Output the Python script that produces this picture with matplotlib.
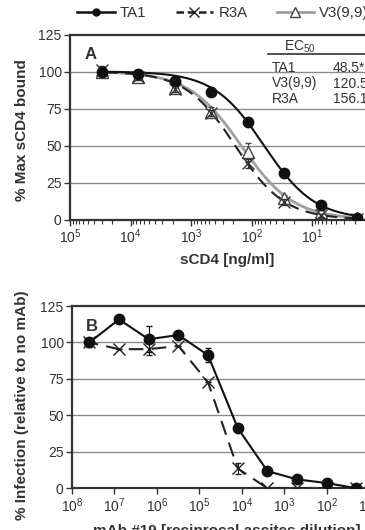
import numpy as np
import matplotlib
matplotlib.use("Agg")
import matplotlib.pyplot as plt
from matplotlib.lines import Line2D

plt.rcParams['font.family'] = ['Liberation Sans', 'DejaVu Sans']
plt.rcParams['mathtext.default'] = 'regular'

# ---------------- data ----------------
# Panel A: sCD4 concentration (ng/ml)
conc_a = [1.83, 7.32, 29.3, 117.2, 468.75, 1875, 7500, 30000]
ta1_a = [1, 9.8, 31.2, 65.7, 86.4, 93.8, 98.1, 100]
v3_a = [1, 5.3, 14.3, 45.8, 72.8, 88.6, 96.5, 100]
r3a_a = [0.5, 3, 12, 38, 72, 88, 96, 101]
ta1_a_err = [0, 1, 2, 2, 2, 1.5, 1, 1]
v3_a_err = [0, 1, 2, 6, 3, 3, 2, 2]
r3a_a_err = [0, 1, 2, 3, 2, 2, 2, 3]
# fitted dose-response parameters (midpoint, Hill slope)
fit_mid = {'TA1': 62.6, 'V3(9,9)': 150.0, 'R3A': 188.0}
fit_hill = {'TA1': 1.04, 'V3(9,9)': 1.0, 'R3A': 1.06}

ec50_names = ['TA1', 'V3(9,9)', 'R3A']
ec50_values = ['48.5*', '120.5', '156.1']

# Panel B: reciprocal ascites dilution
dil_b = [20, 100, 500, 2500, 12500, 62500, 312500, 1562500, 7812500, 39062500]
ta1_b = [0, 3.6, 6.1, 11.8, 41.3, 91.3, 105.1, 102.2, 115.8, 100]
r3a_b = [0, 0, 0, 0, 13.6, 72.6, 97.6, 95.4, 95.4, 100]
ta1_b_err = [0, 0, 0, 0, 0, 5, 0, 9, 0, 0]
r3a_b_err = [0, 0, 0, 0, 4, 0, 0, 4, 0, 3]

yticks = [0, 25, 50, 75, 100, 125]

# ---------------- figure ----------------
W, H = 365, 530
fig = plt.figure(figsize=(W / 100, H / 100), dpi=100)

TXT = '#333333'
SP = '#333333'
GRAY = '#a0a0a0'


def px(x, y):
    return x / W, 1 - y / H


def style(ax):
    ax.set_xscale('log')
    ax.set_ylim(0, 125)
    ax.set_yticks(yticks)
    for yv in yticks[1:-1]:
        ax.axhline(yv, color='#8a8a8a', lw=1.0, zorder=0)
    for s in ['left', 'bottom', 'top']:
        ax.spines[s].set_color(SP)
        ax.spines[s].set_linewidth(1.6)
    ax.spines['right'].set_visible(False)
    ax.tick_params(axis='both', which='major', direction='out', length=4,
                   width=1, colors=SP, labelsize=10, labelcolor=TXT, pad=2)
    ax.tick_params(axis='x', which='minor', direction='out', length=3,
                   width=0.8, colors=SP)
    ax.tick_params(axis='y', which='minor', left=False)


# ---- Panel A ----
axA = fig.add_axes([70 / W, 1 - 219.5 / H, 315 / W, 185 / H])
style(axA)
axA.set_xlim(1e5, 10 ** -0.2)
axA.set_xticks([1e5, 1e4, 1e3, 1e2, 1e1])

xf = np.logspace(np.log10(min(conc_a)), np.log10(max(conc_a)), 300)


def fit(name):
    return 100.0 / (1 + (fit_mid[name] / xf) ** fit_hill[name])


axA.plot(xf, fit('V3(9,9)'), color=GRAY, lw=2.0, zorder=2)
axA.plot(xf, fit('R3A'), color='#222222', lw=1.5, ls=(0, (6, 3.5)), zorder=3)
axA.plot(xf, fit('TA1'), color='#111111', lw=1.5, zorder=4)

axA.errorbar(conc_a, v3_a, yerr=v3_a_err, fmt='^', ms=8, mfc='white',
             mec='#444444', mew=1.0, ecolor='#444444', elinewidth=0.8,
             capsize=2.5, zorder=5)
axA.errorbar(conc_a, r3a_a, yerr=r3a_a_err, fmt='x', ms=8, mec='#333333',
             mew=1.0, ecolor='#333333', elinewidth=0.8, capsize=2.5, zorder=6)
axA.errorbar(conc_a, ta1_a, yerr=ta1_a_err, fmt='o', ms=7.5, mfc='#111111',
             mec='#111111', ecolor='#111111', elinewidth=0.8, capsize=2.5,
             zorder=7)
axA.text(0.045, 0.93, 'A', transform=axA.transAxes, fontsize=12,
         fontweight='bold', color=TXT, va='top', ha='left')
axA.set_xlabel('sCD4 [ng/ml]', fontsize=11, fontweight='bold', color=TXT,
               labelpad=5)

# EC50 table
fig.text(*px(300, 47), 'EC$_{50}$', fontsize=10, color=TXT, ha='center',
         va='center')
fig.add_artist(Line2D([268 / W, 1.0], [1 - 54 / H, 1 - 54 / H],
                      color=SP, lw=1.2))
for i, (nm, v) in enumerate(zip(ec50_names, ec50_values)):
    yy = 68 + i * 15.5
    fig.text(*px(272, yy), nm, fontsize=10, color=TXT, ha='left', va='center')
    fig.text(*px(333, yy), v, fontsize=10, color=TXT, ha='left', va='center')

# ---- Panel B ----
axB = fig.add_axes([72 / W, 1 - 488.3 / H, 310 / W, 182.3 / H])
style(axB)
axB.set_xlim(1e8, 10 ** 0.7)
axB.set_xticks([1e8, 1e7, 1e6, 1e5, 1e4, 1e3, 1e2, 1e1])

axB.errorbar(dil_b, r3a_b, yerr=r3a_b_err, fmt='-', color='#222222', lw=1.5,
             ls=(0, (7, 4)), marker='x', ms=9, mew=1.0, elinewidth=0.8,
             capsize=2.5, zorder=4)
axB.errorbar(dil_b, ta1_b, yerr=ta1_b_err, fmt='-', color='#111111', lw=1.5,
             marker='o', ms=7.5, elinewidth=0.8, capsize=2.5, zorder=5)
axB.text(0.045, 0.93, 'B', transform=axB.transAxes, fontsize=12,
         fontweight='bold', color=TXT, va='top', ha='left')
axB.set_xlabel('mAb #19 [reciprocal ascites dilution]', fontsize=11,
               fontweight='bold', color=TXT, labelpad=6)

# y labels
fig.text(*px(22, 130), '% Max sCD4 bound', rotation=90, fontsize=11,
         fontweight='bold', color=TXT, ha='center', va='center')
fig.text(*px(22, 405), '% Infection (relative to no mAb)', rotation=90,
         fontsize=11, fontweight='bold', color=TXT, ha='center', va='center')

# legend
handles = [
    Line2D([], [], color='#111111', lw=1.8, marker='o', ms=5),
    Line2D([], [], color='#222222', lw=1.8, ls=(0, (3, 1.5)), marker='x',
           ms=7, mew=1.0),
    Line2D([], [], color=GRAY, lw=2.0, marker='^', ms=7, mfc='white',
           mec='#444444', mew=1.0),
]
fig.legend(handles, ['TA1', 'R3A', 'V3(9,9)'], ncol=3, loc='center left',
           bbox_to_anchor=(77 / W, 1 - 13 / H), frameon=False, fontsize=10.8,
           handlelength=2.5, handletextpad=0.35, columnspacing=1.95,
           borderpad=0, borderaxespad=0, labelcolor=TXT)

fig.savefig('out.png', dpi=100)
